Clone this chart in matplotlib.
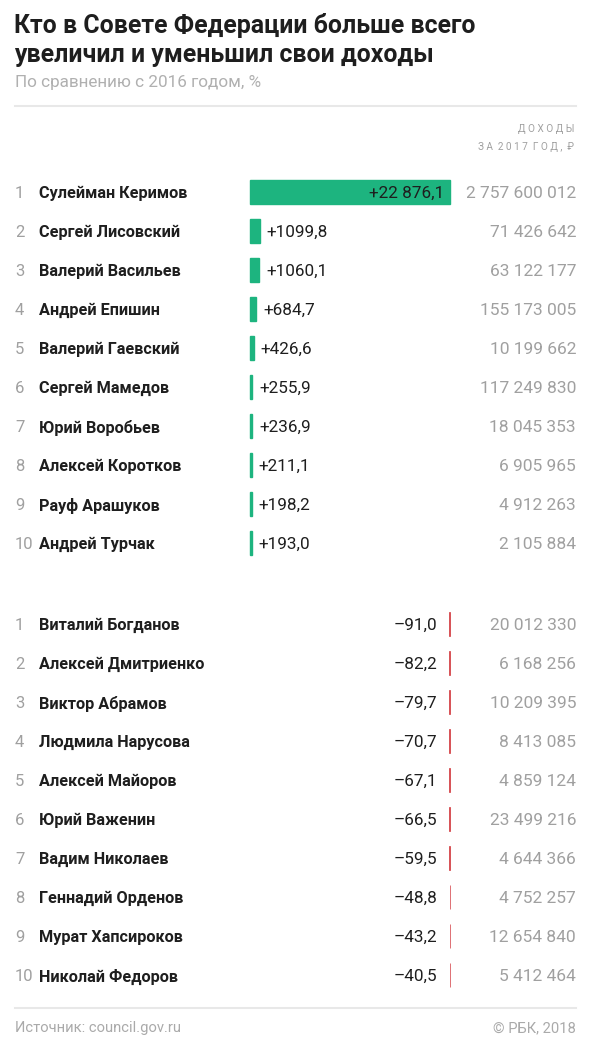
import matplotlib.pyplot as plt
from matplotlib.transforms import blended_transform_factory

plt.rcParams['font.family'] = ['Roboto', 'DejaVu Sans']

# данные
up_names = ['Сулейман Керимов', 'Сергей Лисовский', 'Валерий Васильев', 'Андрей Епишин',
            'Валерий Гаевский', 'Сергей Мамедов', 'Юрий Воробьев', 'Алексей Коротков',
            'Рауф Арашуков', 'Андрей Турчак']
up_change = [22876.1, 1099.8, 1060.1, 684.7, 426.6, 255.9, 236.9, 211.1, 198.2, 193.0]
up_income = [2757600012, 71426642, 63122177, 155173005, 10199662, 117249830,
             18045353, 6905965, 4912263, 2105884]

down_names = ['Виталий Богданов', 'Алексей Дмитриенко', 'Виктор Абрамов', 'Людмила Нарусова',
              'Алексей Майоров', 'Юрий Важенин', 'Вадим Николаев', 'Геннадий Орденов',
              'Мурат Хапсироков', 'Николай Федоров']
down_change = [-91.0, -82.2, -79.7, -70.7, -67.1, -66.5, -59.5, -48.8, -43.2, -40.5]
down_income = [20012330, 6168256, 10209395, 8413085, 4859124, 23499216, 4644366,
               4752257, 12654840, 5412464]

W, H = 590, 1049
GREEN = '#1db47f'
RED = '#d2373c'
GRAY = '#a0a0a0'
DARK = '#1e1e1e'


def fx(x):
    return x / W


def fy(y):
    return 1 - y / H


def fmt_change(v):
    s = f'{abs(v):,.1f}'.replace('.', 'д')
    if abs(v) < 10000:
        s = s.replace(',', '')
    else:
        s = s.replace(',', ' ')
    s = s.replace('д', ',')
    return ('+' if v > 0 else '–') + s


def fmt_income(n):
    return f'{n:,}'.replace(',', ' ')


fig = plt.figure(figsize=(W / 100, H / 100), dpi=100)

fig.text(fx(14), fy(25), 'Кто в Совете Федерации больше всего', fontsize=17.9,
         fontweight='bold', color=DARK, va='center')
fig.text(fx(14), fy(55), 'увеличил и уменьшил свои доходы', fontsize=17.9,
         fontweight='bold', color=DARK, va='center')
fig.text(fx(15), fy(83), 'По сравнению с 2016 годом, %', fontsize=12.3,
         color='#b0b0b0', va='center')
fig.add_artist(plt.Line2D([fx(15), fx(576)], [fy(106), fy(106)], color='#e8e8e8', lw=1.5))
fig.text(fx(574), fy(129), 'Д О Х О Д Ы', fontsize=7.2, color=GRAY, ha='right', va='center')
fig.text(fx(574), fy(147), 'З А  2 0 1 7  Г О Д ,  ₽', fontsize=7.2, color=GRAY,
         ha='right', va='center')

fig.add_artist(plt.Line2D([fx(15), fx(576)], [fy(1008), fy(1008)], color='#e8e8e8', lw=1.5))
fig.text(fx(15), fy(1028), 'Источник: council.gov.ru', fontsize=10.6, color='#aaaaaa',
         va='center')
fig.text(fx(576), fy(1028), '© РБК, 2018', fontsize=10.6, color='#aaaaaa', ha='right',
         va='center')

scale = up_change[0]


def panel(top_px, names, changes, incomes, color, positive):
    ax = fig.add_axes([fx(250), fy(top_px + 390), fx(200), 390 / H])
    if positive:
        ax.set_xlim(0, scale)
    else:
        ax.set_xlim(-scale, 0)
    ax.set_ylim(len(names) - 0.5, -0.5)
    ax.axis('off')
    ys = list(range(len(names)))
    lw = 1.0 if positive else 0.5
    bars = ax.barh(ys, changes, height=0.6, color=color, edgecolor=color, linewidth=lw)
    for b in bars:
        b.set_clip_on(False)
    tr = blended_transform_factory(fig.transFigure, ax.transData)
    for i, (n, v, inc) in enumerate(zip(names, changes, incomes)):
        ax.text(fx(15), i, str(i + 1), transform=tr, fontsize=12, color=GRAY,
                va='center_baseline')
        ax.text(fx(39), i, n, transform=tr, fontsize=11.7, fontweight='bold', color=DARK,
                va='center_baseline')
        ax.text(fx(576), i, fmt_income(inc), transform=tr, fontsize=12.5, color=GRAY,
                ha='right', va='center_baseline')
        if positive and v > scale * 0.3:
            ax.annotate(fmt_change(v), xy=(v, i), xytext=(-6, 0), textcoords='offset pixels',
                        ha='right', va='center_baseline', fontsize=12.3, color=DARK)
        elif positive:
            ax.annotate(fmt_change(v), xy=(v, i), xytext=(7, 0), textcoords='offset pixels',
                        ha='left', va='center_baseline', fontsize=12.3, color=DARK)
        else:
            ax.annotate(fmt_change(v), xy=(v, i), xytext=(-12, 0), textcoords='offset pixels',
                        ha='right', va='center_baseline', fontsize=12.3, color=DARK)
    return ax


panel(172.5, up_names, up_change, up_income, GREEN, True)
panel(604.5, down_names, down_change, down_income, RED, False)

fig.savefig('out.png', dpi=100)
